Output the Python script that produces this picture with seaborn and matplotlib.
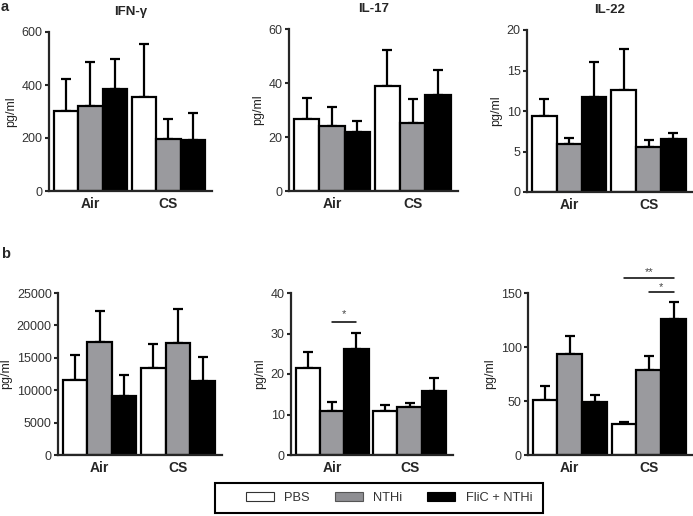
import numpy as np
import pandas as pd
import matplotlib
matplotlib.use('Agg')
import matplotlib.pyplot as plt
from matplotlib.patches import Patch, Rectangle
import seaborn as sns

# order inside each list: Air PBS, Air NTHi, Air FliC+NTHi, CS PBS, CS NTHi, CS FliC+NTHi
exposures = ['Air', 'CS']
treatments = ['PBS', 'NTHi', 'FliC + NTHi']
bar_colors = ['white', '#9a9a9e', 'black']

# panel a
ifng_mean = [302, 321, 384, 355, 196, 192]
ifng_err = [122, 166, 113, 200, 77, 101]
il17_a_mean = [26.5, 24.0, 21.9, 38.8, 25.1, 35.7]
il17_a_err = [8.1, 7.0, 3.9, 13.5, 9.1, 9.1]
il22_a_mean = [9.4, 5.9, 11.75, 12.6, 5.6, 6.5]
il22_a_err = [2.1, 0.75, 4.25, 5.1, 0.8, 0.8]

# panel b
b_left_mean = [11600, 17420, 9090, 13400, 17220, 11350]
b_left_err = [3860, 4750, 3300, 3660, 5310, 3800]
b_mid_mean = [21.6, 10.9, 26.2, 10.8, 11.8, 15.9]
b_mid_err = [3.8, 2.1, 3.9, 1.65, 1.1, 3.1]
b_right_mean = [51, 93.4, 48.9, 28.8, 78.9, 125.9]
b_right_err = [13, 16.6, 7.1, 2.2, 12.7, 15.8]

W, H = 693, 516


def px_axes(fig, x0, y0, x1, y1):
    return fig.add_axes([x0 / W, 1 - y1 / H, (x1 - x0) / W, (y1 - y0) / H])


def draw_panel(ax, means, errs, ticks, title=None):
    df = pd.DataFrame({
        'exposure': np.repeat(exposures, 3),
        'treatment': treatments * 2,
        'value': means,
    })
    sns.barplot(data=df, x='exposure', y='value', hue='treatment',
                hue_order=treatments, order=exposures, palette=bar_colors,
                saturation=1, width=0.94, edgecolor='black', linewidth=1.6,
                errorbar=None, legend=False, ax=ax, zorder=2)
    centers = {}
    bar_sets = list(ax.containers)
    for h, cont in enumerate(bar_sets):
        for g, bar in enumerate(cont.patches):
            xc = bar.get_x() + bar.get_width() / 2
            top = bar.get_height()
            centers[(g, h)] = xc
            ax.errorbar([xc], [top], yerr=[[0], [errs[g * 3 + h]]], fmt='none',
                        ecolor='black', elinewidth=1.6, capsize=3.3,
                        capthick=1.6, zorder=1)
    ax.set_xlim(-0.53, 1.56)
    ax.set_ylim(0, ticks[-1])
    ax.set_yticks(ticks)
    ax.set_yticklabels([str(t) for t in ticks])
    ax.set_xlabel('')
    ax.set_ylabel('pg/ml', fontsize=9, color='#222222', labelpad=3)
    for s in ['top', 'right']:
        ax.spines[s].set_visible(False)
    for s in ['left', 'bottom']:
        ax.spines[s].set_linewidth(1.6)
    ax.tick_params(axis='y', length=3, width=1.5, labelsize=9,
                   labelcolor='#333333', pad=1.5)
    ax.tick_params(axis='x', length=0, labelsize=10, pad=4)
    for lbl in ax.get_xticklabels():
        lbl.set_fontweight('bold')
    if title:
        ax.set_title(title, fontsize=9.5, fontweight='bold', pad=12)
    return centers


def sig_bar(ax, x1, x2, y, text, dy):
    ax.plot([x1, x2], [y, y], color='black', lw=1.1, clip_on=False)
    ax.text((x1 + x2) / 2, y + dy, text, ha='center', va='center',
            fontsize=8, color='#444444', clip_on=False)


sns.set_style('ticks')
plt.rcParams['font.family'] = ['Liberation Sans', 'DejaVu Sans']

fig = plt.figure(figsize=(W / 100, H / 100), dpi=100)

ax1 = px_axes(fig, 49, 32, 212, 191)
draw_panel(ax1, ifng_mean, ifng_err, [0, 200, 400, 600], 'IFN-\u03b3')
ax2 = px_axes(fig, 289, 29, 458, 191)
draw_panel(ax2, il17_a_mean, il17_a_err, [0, 20, 40, 60], 'IL-17')
ax3 = px_axes(fig, 527, 30, 693, 192)
draw_panel(ax3, il22_a_mean, il22_a_err, [0, 5, 10, 15, 20], 'IL-22')

ax4 = px_axes(fig, 58, 293, 222, 455)
draw_panel(ax4, b_left_mean, b_left_err, [0, 5000, 10000, 15000, 20000, 25000])
ax5 = px_axes(fig, 291, 293, 453, 455)
c5 = draw_panel(ax5, b_mid_mean, b_mid_err, [0, 10, 20, 30, 40])
ax6 = px_axes(fig, 528, 293, 693, 455)
c6 = draw_panel(ax6, b_right_mean, b_right_err, [0, 50, 100, 150])

sig_bar(ax5, c5[(0, 1)], c5[(0, 2)], 32.8, '*', 2.0)
sig_bar(ax6, c6[(1, 0)], c6[(1, 2)], 164, '**', 5.0)
sig_bar(ax6, c6[(1, 1)], c6[(1, 2)], 151, '*', 4.5)

fig.text(1 / W, 1 - 7 / H, 'a', fontsize=10.5, fontweight='bold', va='center')
fig.text(1 / W, 1 - 254 / H, 'b', fontsize=10.5, fontweight='bold', va='center')

# legend
fig.patches.append(Rectangle((215 / W, 1 - 513 / H), 328 / W, 30 / H,
                             transform=fig.transFigure, fill=False,
                             edgecolor='black', linewidth=1.5))
handles = [Patch(facecolor='white', edgecolor='#333333', linewidth=0.8),
           Patch(facecolor='#8e8e92', edgecolor='#555555', linewidth=0.8),
           Patch(facecolor='black', edgecolor='black', linewidth=0.8)]
leg = fig.legend(handles, treatments, loc='center',
                 bbox_to_anchor=(389 / W, 1 - 498 / H), ncol=3, frameon=False,
                 fontsize=9.3, handlelength=2.2, handleheight=0.7,
                 handletextpad=0.8, columnspacing=1.9)
for t in leg.get_texts():
    t.set_color('#333333')

fig.savefig('out.png', dpi=100)
